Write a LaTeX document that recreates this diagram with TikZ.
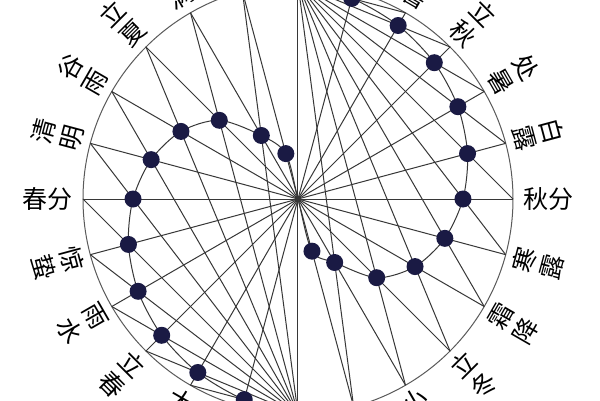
\documentclass[tikz,border=0pt]{standalone}
\usepackage{fontspec}
\newfontfamily\cjk{Noto Sans CJK SC}
\definecolor{dotblue}{RGB}{26,26,68}
\definecolor{linegray}{RGB}{55,55,55}
\definecolor{rimgray}{RGB}{90,90,90}

\begin{document}
\begin{tikzpicture}[x=1pt, y=1pt,
		ln/.style={draw=linegray, line width=1pt},
		sundot/.style={circle, fill=dotblue, inner sep=0pt, minimum size=17pt},
		termlabel/.style={font=\cjk\fontsize{25}{25}\selectfont, inner sep=0pt}]
			\fill[white] (-298,-201) rectangle (302,199);
			\useasboundingbox (-298,-201) rectangle (302,199);
			\clip (-298,-201) rectangle (302,199);
			\coordinate (O) at (0,0);
			\foreach \i in {0,...,23} \coordinate (q\i) at (\i*15:215);
			\draw[ln, draw=rimgray] (O) circle (215);
			% radii to all 24 terms
			\foreach \i in {0,...,23} \draw[ln] (O) -- (q\i);
			% chords from summer and winter solstice points
			\foreach \k in {19,20,21,22,23,0,1,2,3,4} \draw[ln] (q6) -- (q\k);
			\foreach \k in {7,...,16} \draw[ln] (q18) -- (q\k);
			% positions of the sun (radius meets chord)
			\foreach \k [evaluate=\k as \n using {int(mod(\k+24,24))}] in {-4,...,5}
				\coordinate (p\n) at ({15*\k}:{215*sin((75+15*\k)/2)/sin((105+15*\k)/2)});
			\foreach \k in {8,...,17}
				\coordinate (p\k) at ({15*\k}:{215*sin((15*\k-105)/2)/sin((15*\k-75)/2)});
			\coordinate (p19) at (285:54);
			\coordinate (p7) at (105:47);
			\draw[ln] plot[smooth] coordinates {(q6) (p5) (p4) (p3) (p2) (p1) (p0) (p23) (p22) (p21) (p20) (p19)
				(O) (p7) (p8) (p9) (p10) (p11) (p12) (p13) (p14) (p15) (p16) (p17) (q18)};
			\foreach \k in {0,1,2,3,4,5,7,8,9,10,11,12,13,14,15,16,17,19,20,21,22,23}
				\node[sundot] (d\k) at (p\k) {};
			% term names
			\node[termlabel] (t0) at (0:250) {秋分};
			\node[termlabel] (t12) at (180:250) {春分};
			\foreach \i/\a/\b in {1/白/露,2/处/暑,3/立/秋,4/大/暑,5/小/暑,6/夏/至,7/芒/种,8/小/满,9/立/夏,10/谷/雨,11/清/明} {
				\node[termlabel, rotate=\i*15-90] (ta\i) at (\i*15:263) {\a};
				\node[termlabel, rotate=\i*15-90] (tb\i) at (\i*15:234) {\b};
			}
			\foreach \i/\a/\b in {13/惊/蛰,14/雨/水,15/立/春,16/大/寒,17/小/寒,18/冬/至,19/大/雪,20/小/雪,21/立/冬,22/霜/降,23/寒/露} {
				\node[termlabel, rotate=\i*15+90] (ta\i) at (\i*15:234) {\a};
				\node[termlabel, rotate=\i*15+90] (tb\i) at (\i*15:263) {\b};
			}
		\end{tikzpicture}
\end{document}
